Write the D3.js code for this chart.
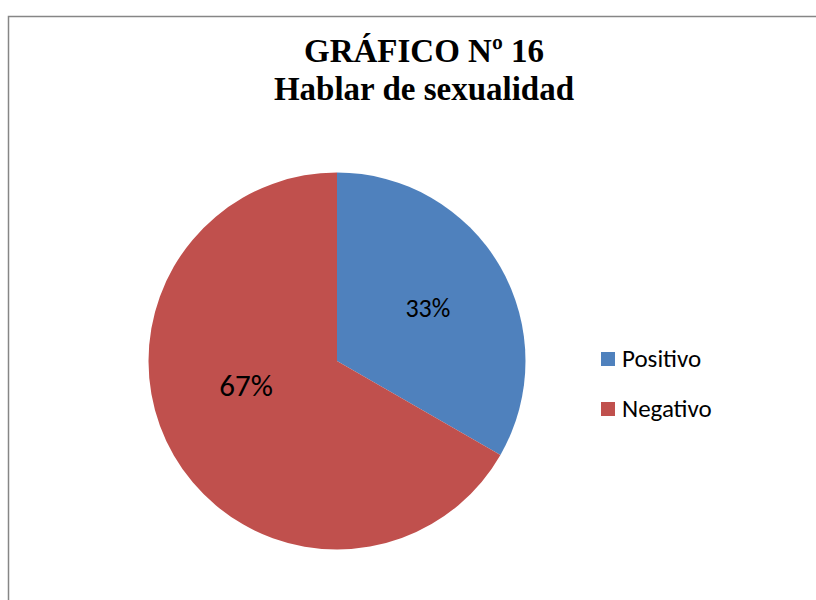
<!DOCTYPE html>
<html>
<head>
    <meta charset="utf-8">
    <title>Hablar de sexualidad</title>
    <script src="https://cdn.jsdelivr.net/npm/d3@7/dist/d3.min.js"></script>
    <style>
        body { margin: 0; background: #fff; }
    </style>
</head>
<body>
    <svg width="816" height="600"></svg>
<script>
    // datos del gráfico
    var categorias = ["Positivo", "Negativo"];
    var valores = [33.3, 66.7];
    var colores = ["#4F81BD", "#C0504D"];
    var titulo = ["GRÁFICO Nº 16", "Hablar de sexualidad"];

    var svg = d3.select("svg"),
        width = +svg.attr("width"),
        height = +svg.attr("height");

    // marco del área del gráfico
    svg.append("rect")
        .attr("x", 8.5).attr("y", 16.5)
        .attr("width", 830).attr("height", 620)
        .attr("fill", "#fff")
        .attr("stroke", "#868686")
        .attr("stroke-width", 1.5);

    svg.append("g").selectAll("text")
        .data(titulo)
        .enter().append("text")
        .attr("x", 424)
        .attr("y", function (d, i) { return 62 + i * 38; })
        .attr("text-anchor", "middle")
        .attr("font-family", "'Liberation Serif', 'Times New Roman', serif")
        .attr("font-weight", "bold")
        .attr("font-size", 33)
        .attr("fill", "#000")
        .text(function (d) { return d; });

    var cx = 337, cy = 361, radio = 188.5;
    var total = d3.sum(valores);

    var pie = d3.pie().sort(null).value(function (d) { return d; });
    var arc = d3.arc().innerRadius(0).outerRadius(radio);
    var arcos = pie(valores);

    var g = svg.append("g").attr("transform", "translate(" + cx + "," + cy + ")");

    g.selectAll("path")
        .data(arcos)
        .enter().append("path")
        .attr("d", arc)
        .attr("fill", function (d, i) { return colores[i]; });

    // etiquetas de porcentaje
    var etiquetaArc = d3.arc().innerRadius(radio * 0.557).outerRadius(radio * 0.557);
    var tamEtiqueta = [26, 31];
    var ajusteY = [0, -28];
    g.selectAll(".etq")
        .data(arcos)
        .enter().append("text")
        .attr("class", "etq")
        .attr("transform", function (d, i) {
            var c = etiquetaArc.centroid(d);
            return "translate(" + c[0] + "," + (c[1] + ajusteY[i]) + ")";
        })
        .attr("text-anchor", "middle")
        .attr("dy", "0.33em")
        .attr("font-family", "Carlito, Calibri, 'Noto Sans', sans-serif")
        .attr("font-size", function (d, i) { return tamEtiqueta[i]; })
        .attr("fill", "#000")
        .text(function (d) { return Math.round(d.value / total * 100) + "%"; });

    // leyenda
    var leyenda = svg.append("g").attr("transform", "translate(601,367)");
    var item = leyenda.selectAll("g")
        .data(categorias)
        .enter().append("g")
        .attr("transform", function (d, i) { return "translate(0," + i * 50 + ")"; });
    item.append("rect")
        .attr("x", 0).attr("y", -15)
        .attr("width", 14).attr("height", 14)
        .attr("fill", function (d, i) { return colores[i]; });
    item.append("text")
        .attr("x", 21)
        .attr("font-family", "Carlito, Calibri, 'Noto Sans', sans-serif")
        .attr("font-size", 25)
        .attr("fill", "#000")
        .text(function (d) { return d; });
</script>
</body>
</html>
